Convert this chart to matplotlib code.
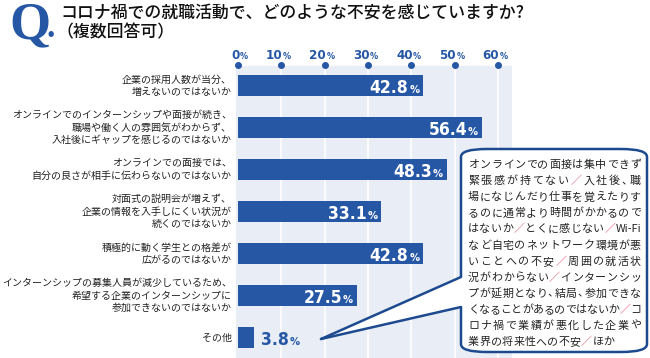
import matplotlib
matplotlib.use("Agg")
import matplotlib.pyplot as plt
from matplotlib import font_manager
from matplotlib.patches import FancyBboxPatch, Polygon
from matplotlib.lines import Line2D
from matplotlib.transforms import blended_transform_factory

# ---- data
labels = [
    "企業の採用人数が当分、\n増えないのではないか",
    "オンラインでのインターンシップや面接が続き、\n職場や働く人の雰囲気がわからず、\n入社後にギャップを感じるのではないか",
    "オンラインでの面接では、\n自分の良さが相手に伝わらないのではないか",
    "対面式の説明会が増えず、\n企業の情報を入手しにくい状況が\n続くのではないか",
    "積極的に動く学生との格差が\n広がるのではないか",
    "インターンシップの募集人員が減少しているため、\n希望する企業のインターンシップに\n参加できないのではないか",
    "その他",
]
values = [42.8, 56.4, 48.3, 33.1, 42.8, 27.5, 3.8]
xticks = [0, 10, 20, 30, 40, 50, 60]

title1 = "コロナ禍での就職活動で、どのような不安を感じていますか?"
title2 = "（複数回答可）"
note_lines = [
    "オンラインでの面接は集中できず",
    "緊張感が持てない／入社後、職",
    "場になじんだり仕事を覚えたりす",
    "るのに通常より時間がかかるので",
    "はないか／とくに感じない／Wi-Fi",
    "など自宅のネットワーク環境が悪",
    "いことへの不安／周囲の就活状",
    "況がわからない／インターンシッ",
    "プが延期となり、結局、参加できな",
    "くなることがあるのではないか／コ",
    "ロナ禍で業績が悪化した企業や",
    "業界の将来性への不安／ほか",
]

BLUE = "#2557a5"
DARK = "#1d4a8f"
PANEL = "#e8edf6"
JP = ["Noto Sans CJK JP", "DejaVu Sans"]

# narrow bold font for numbers
try:
    font_manager.findfont(font_manager.FontProperties(family="Liberation Sans Narrow"),
                          fallback_to_default=False)
    NUM = dict(family="Liberation Sans Narrow", weight="bold")
    big, small = 15.5, 10
except Exception:
    NUM = dict(family="DejaVu Sans", weight="bold", stretch="condensed")
    big, small = 12.5, 8

W, H = 650, 358


def fx(x):
    return x / W


def fy(y):
    return 1 - y / H


fig = plt.figure(figsize=(6.5, 3.58), dpi=100)

# axes panel: 0% at x=238px, 10% = 43.33px
left, right, top = 236, 512, 65
ax = fig.add_axes([fx(left), 0, (right - left) / W, (H - top) / H])
unit = 43.33 / 10
ax.set_xlim((left - 238) / unit, (right - 238) / unit)
ax.set_ylim(6.488, -0.488)
ax.set_facecolor(PANEL)
for s in ax.spines.values():
    s.set_visible(False)
ax.set_xticks([])
ax.set_yticks([])

for t in xticks[1:]:
    ax.axvline(t, color="white", lw=1.2, zorder=1)
ax.axhline(-0.488, color="white", lw=1.2, zorder=1)

ypos = list(range(len(values)))
ax.barh(ypos, values, height=0.5, color=BLUE, zorder=2)

# tick dots and labels
tr = blended_transform_factory(ax.transData, ax.transAxes)
ax.plot(xticks, [1] * len(xticks), "o", color=BLUE, ms=4, transform=tr,
        clip_on=False, zorder=5)
for t in xticks:
    num = ax.annotate(str(t), (t, 1), xycoords=tr, xytext=(1, 4.3),
                      textcoords="offset points", ha="right", va="baseline",
                      color=BLUE, fontsize=9.5, **NUM)
    ax.annotate("%", (1, 1), xycoords=(num, tr), xytext=(0.3, 4.3),
                textcoords="offset points", ha="left", va="baseline",
                color=BLUE, fontsize=6.5, **NUM)

# value labels
for y, v in zip(ypos, values):
    if v >= 10:
        pct = ax.annotate("%", (v, y), xytext=(-3, -5.4), textcoords="offset points",
                          ha="right", va="baseline", color="white", fontsize=small, **NUM)
        ax.annotate(f"{v:.1f}", (0, y), xycoords=(pct, "data"), xytext=(-0.5, -5.4),
                    textcoords="offset points", ha="right", va="baseline",
                    color="white", fontsize=big, **NUM)
    else:
        num = ax.annotate(f"{v:.1f}", (v, y), xytext=(5, -5.4), textcoords="offset points",
                          ha="left", va="baseline", color=BLUE, fontsize=big, **NUM)
        ax.annotate("%", (1, y), xycoords=(num, "data"), xytext=(0.5, -5.4),
                    textcoords="offset points", ha="left", va="baseline",
                    color=BLUE, fontsize=small, **NUM)

# category labels
ltr = blended_transform_factory(ax.transAxes, ax.transData)
for y, lab in zip(ypos, labels):
    ax.text(-0.015, y, lab, transform=ltr, ha="right", va="center",
            multialignment="right", fontsize=7.2, linespacing=1.28,
            family=JP, color="#222222")

# title
fig.text(fx(9), fy(38), "Q", family="Liberation Serif", weight="bold",
         fontsize=38, color=BLUE, ha="left", va="baseline")
fig.text(fx(47), fy(37), ".", family="Liberation Serif", weight="bold",
         fontsize=24, color=BLUE, ha="left", va="baseline")
fig.text(fx(60), fy(13), title1, family=JP, fontsize=12.2, weight="medium",
         color="#111111", ha="left", va="center")
fig.text(fx(57), fy(32), title2, family=JP, fontsize=12.2, weight="medium",
         color="#111111", ha="left", va="center")

# callout
bx0, by0, bx1, by1 = 461, 149, 647, 352
box = FancyBboxPatch((fx(bx0), fy(by1)), fx(bx1 - bx0), (by1 - by0) / H,
                     boxstyle="round,pad=0,rounding_size=0.04",
                     transform=fig.transFigure, facecolor="white",
                     edgecolor=DARK, lw=1.8, zorder=10, mutation_aspect=H / W)
fig.add_artist(box)
tip = (fx(321), fy(339))
p_up = (fx(bx0), fy(277))
p_lo = (fx(bx0), fy(307))
tail = Polygon([p_up, tip, p_lo, (fx(bx0 + 3), fy(307)), (fx(bx0 + 3), fy(277))],
               closed=True, transform=fig.transFigure, facecolor="white",
               edgecolor="none", zorder=11)
fig.add_artist(tail)
for p in (p_up, p_lo):
    fig.add_artist(Line2D([tip[0], p[0]], [tip[1], p[1]], transform=fig.transFigure,
                          color=DARK, lw=1.8, zorder=12, solid_capstyle="round"))

# justified note text, one glyph at a time
em = 11.0          # px
tx0, tw = 468, 173  # px
note_size = em * 72 / 100


def units(line):
    out = []
    i = 0
    while i < len(line):
        if line.startswith("Wi-Fi", i):
            out.append(("Wi-Fi", 2.3))
            i += 5
        else:
            c = line[i]
            out.append((c, 0.6 if c == "、" else 1.0))
            i += 1
    return out


for k, line in enumerate(note_lines):
    yy = fy(165 + 16.1 * k)
    us = units(line)
    natural = sum(w for _, w in us) * em
    gap = (tw - natural) / (len(us) - 1) if k < len(note_lines) - 1 else 0.3
    x = tx0
    for c, w in us:
        col = "#dc5570" if c == "／" else "#222222"
        fig.text(fx(x), yy, c, family=JP, fontsize=note_size, color=col,
                 ha="left", va="center", zorder=13)
        x += w * em + gap

fig.savefig("out.png", dpi=100)
